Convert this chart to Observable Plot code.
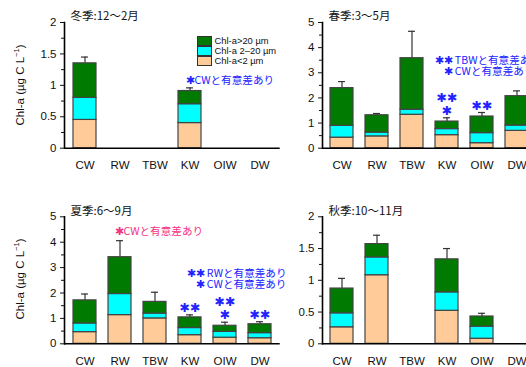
<!DOCTYPE html>
<html><head><meta charset="utf-8">
<script src="https://cdn.jsdelivr.net/npm/d3@7"></script>
<script src="https://cdn.jsdelivr.net/npm/@observablehq/plot@0.6"></script>
<style>
body{margin:0;background:#fff;}
#wrap{position:relative;width:526px;height:367px;overflow:hidden;background:#fff;font-family:"Liberation Sans",Arial,"Noto Sans CJK JP",sans-serif;}
#wrap svg{position:absolute;}
.ytitle{position:absolute;transform:translate(-50%,-50%) rotate(-90deg);white-space:nowrap;font-size:11.5px;color:#111;}
.ytitle sup{font-size:7.5px;vertical-align:5px;line-height:0;}
.legend{position:absolute;left:197px;top:35.5px;font-size:9.4px;color:#111;}
.legend .row{height:10px;display:flex;align-items:center;white-space:nowrap;}
.legend .sw{width:13px;height:8px;border:1px solid #333;margin-right:2.5px;box-sizing:content-box;}
</style></head>
<body><div id="wrap"></div>
<script>
const sites = ["CW","RW","TBW","KW","OIW","DW"];
const fractions = ["Chl-a<2 µm","Chl-a 2–20 µm","Chl-a>20 µm"];
const legendOrder = ["Chl-a>20 µm","Chl-a 2–20 µm","Chl-a<2 µm"];
const fractionColors = ["#ffcc99","#00ffff","#007a00"];

const winterTitle = "冬季:12～2月";
const winterSmall = [0.45,null,null,0.40,null,null];
const winterMid   = [0.35,null,null,0.30,null,null];
const winterLarge = [0.55,null,null,0.21,null,null];
const winterErr   = [0.10,null,null,0.05,null,null];
const winterSig   = ["","","","","",""];
const winterNotes = ["✱CWと有意差あり"];

const springTitle = "春季:3～5月";
const springSmall = [0.42,0.47,1.33,0.52,0.20,0.69];
const springMid   = [0.47,0.15,0.20,0.24,0.40,0.21];
const springLarge = [1.50,0.69,2.05,0.30,0.66,1.17];
const springErr   = [0.26,0.07,1.07,0.15,0.16,0.21];
const springSig   = ["","","","✱✱\n✱","✱✱",""];
const springNotes = ["✱✱ TBWと有意差あり","✱ CWと有意差あり"];

const summerTitle = "夏季:6～9月";
const summerSmall = [0.46,1.13,1.00,0.34,0.24,0.22];
const summerMid   = [0.34,0.83,0.19,0.28,0.23,0.20];
const summerLarge = [0.91,1.45,0.46,0.42,0.24,0.35];
const summerErr   = [0.25,0.65,0.38,0.10,0.14,0.10];
const summerSig   = ["","","","✱✱","✱✱\n✱","✱✱"];
const summerPinkNote = ["✱CWと有意差あり"];
const summerNotes = ["✱✱ RWと有意差あり","✱ CWと有意差あり"];

const autumnTitle = "秋季:10～11月";
const autumnSmall = [0.26,1.08,null,0.52,0.08,null];
const autumnMid   = [0.22,0.28,null,0.29,0.19,null];
const autumnLarge = [0.39,0.21,null,0.52,0.16,null];
const autumnErr   = [0.16,0.14,null,0.17,0.05,null];

const ticks2 = [0,0.5,1,1.5,2];
const minor2 = [0.25,0.75,1.25,1.75];
const ticks5 = [0,1,2,3,4,5];
const minor5 = [0.5,1.5,2.5,3.5,4.5];

const FONT = '"Liberation Sans", Arial, "Noto Sans CJK JP", sans-serif';
const CJK = '"Noto Sans CJK JP", "Liberation Sans", sans-serif';
const STAR = '"DejaVu Sans", "Noto Sans CJK JP", sans-serif';
const BLUE = "#2222ff", PINK = "#f5337f";
const wrap = document.getElementById("wrap");

function panel(o) {
  const series = [o.small, o.mid, o.large];
  const rows = [];
  fractions.forEach((f, i) => sites.forEach((s, j) => {
    const v = series[i][j];
    if (v != null) rows.push({site: s, fraction: f, value: v});
  }));
  const errRows = sites.map((s, j) => {
    if (o.small[j] == null) return null;
    const total = o.small[j] + o.mid[j] + o.large[j];
    return {site: s, total, top: total + o.err[j], sig: o.sig ? o.sig[j] : ""};
  }).filter(d => d);

  const marks = [
    Plot.ruleX(errRows, {x: "site", y1: "total", y2: "top", stroke: "#333", strokeWidth: 1.2}),
    Plot.tickY(errRows, {x: "site", y: "top", insetLeft: 8, insetRight: 8, stroke: "#333", strokeWidth: 1.2}),
    Plot.barY(rows, {x: "site", y: "value", fill: "fraction", stroke: "#444", strokeWidth: 1.2}),
    Plot.ruleY([0], {stroke: "#000", strokeWidth: 1.6}),
    Plot.frame({anchor: "left", stroke: "#000", strokeWidth: 1.6}),
    Plot.axisY({ticks: o.yTicks, tickSize: 4, tickPadding: 4, tickFormat: d => String(d), fontSize: 11.5, label: null, fill: "#111"}),
    Plot.axisY({ticks: o.yMinor, tickSize: 3, tickFormat: () => "", label: null}),
    Plot.axisX({tickSize: 0, tickPadding: 13, fontSize: 11.5, label: null, fill: "#111"}),
    Plot.text([o.title], {frameAnchor: "top-left", dx: 6, dy: o.titleDy, lineAnchor: "middle", textAnchor: "start", fontFamily: CJK, fontSize: 11.5, fill: "#111"})
  ];
  if (o.sig) {
    marks.push(Plot.text(errRows.filter(d => d.sig), {x: "site", y: "top", text: "sig", lineAnchor: "bottom", dy: -3, fontFamily: STAR, fontSize: 12.5, lineHeight: 1.05, fill: BLUE}));
  }
  (o.notes || []).forEach(n => {
    marks.push(Plot.text([n.text], {frameAnchor: "top-left", dx: n.dx, dy: n.dy, lineAnchor: "middle", textAnchor: "start", fontFamily: CJK, fontSize: 10.6, fill: n.color}));
  });

  const svg = Plot.plot({
    width: o.width, height: o.height,
    marginLeft: o.marginLeft, marginRight: o.marginRight, marginTop: o.marginTop, marginBottom: o.marginBottom,
    style: {background: "transparent", overflow: "visible", fontFamily: FONT, fontSize: "11.5px", color: "#111"},
    x: {domain: sites, range: o.xRange, paddingInner: 0.33, paddingOuter: 0.165},
    y: {domain: o.yDomain},
    color: {domain: fractions, range: fractionColors},
    marks
  });
  svg.style.left = o.left + "px";
  svg.style.top = o.top + "px";
  wrap.appendChild(svg);
}

panel({left: 0, top: 0, width: 290, height: 183, marginLeft: 64, marginRight: 10.3, marginTop: 22, marginBottom: 35.3,
  xRange: [65.7, 279.7], yDomain: [0, 2], yTicks: ticks2, yMinor: minor2,
  small: winterSmall, mid: winterMid, large: winterLarge, err: winterErr, sig: winterSig,
  title: winterTitle, titleDy: -6,
  notes: [{text: winterNotes[0], dx: 121, dy: 58, color: BLUE}]});

panel({left: 263, top: 0, width: 290, height: 183, marginLeft: 59, marginRight: 16, marginTop: 22, marginBottom: 35.3,
  xRange: [58.4, 273.5], yDomain: [0, 5], yTicks: ticks5, yMinor: minor5,
  small: springSmall, mid: springMid, large: springLarge, err: springErr, sig: springSig,
  title: springTitle, titleDy: -6,
  notes: [{text: springNotes[0], dx: 112, dy: 38, color: BLUE}, {text: springNotes[1], dx: 121, dy: 49, color: BLUE}]});

panel({left: 0, top: 183, width: 290, height: 184, marginLeft: 64, marginRight: 10.3, marginTop: 33.3, marginBottom: 23.7,
  xRange: [65.7, 279.7], yDomain: [0, 5], yTicks: ticks5, yMinor: minor5,
  small: summerSmall, mid: summerMid, large: summerLarge, err: summerErr, sig: summerSig,
  title: summerTitle, titleDy: -5.5,
  notes: [{text: summerPinkNote[0], dx: 50, dy: 14.4, color: PINK},
          {text: summerNotes[0], dx: 122, dy: 56.7, color: BLUE},
          {text: summerNotes[1], dx: 131, dy: 67.7, color: BLUE}]});

panel({left: 263, top: 183, width: 290, height: 184, marginLeft: 59, marginRight: 16, marginTop: 33.3, marginBottom: 23.7,
  xRange: [58.4, 273.5], yDomain: [0, 2], yTicks: ticks2, yMinor: minor2,
  small: autumnSmall, mid: autumnMid, large: autumnLarge, err: autumnErr, sig: null,
  title: autumnTitle, titleDy: -5.5, notes: []});

// y-axis titles
[85, 279].forEach(cy => {
  const d = document.createElement("div");
  d.className = "ytitle";
  d.style.left = "20px"; d.style.top = cy + "px";
  d.innerHTML = "Chl-a (µg C L<sup>−1</sup>)";
  wrap.appendChild(d);
});

// legend (top-left panel)
const lg = document.createElement("div");
lg.className = "legend";
legendOrder.forEach(f => {
  const r = document.createElement("div");
  r.className = "row";
  const sw = document.createElement("span");
  sw.className = "sw";
  sw.style.background = fractionColors[fractions.indexOf(f)];
  r.appendChild(sw);
  r.appendChild(document.createTextNode(f));
  lg.appendChild(r);
});
wrap.appendChild(lg);
</script>
</body></html>
